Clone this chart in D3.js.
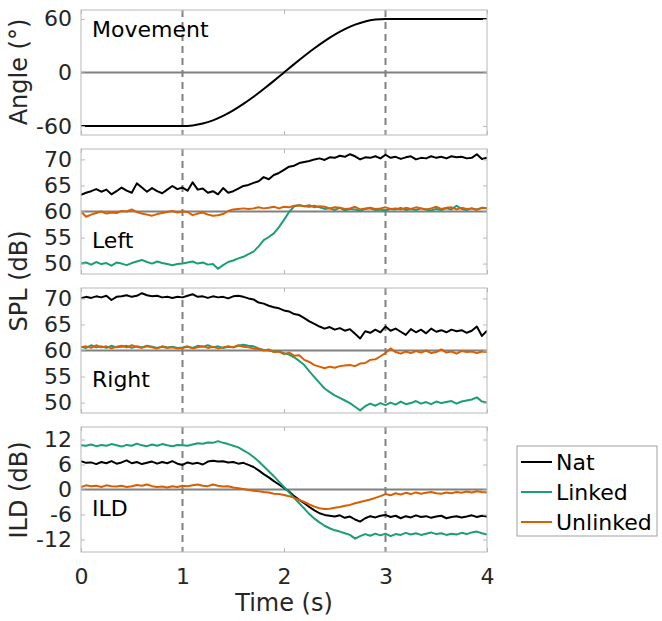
<!DOCTYPE html>
<html>
<head>
<meta charset="utf-8">
<script src="https://cdn.jsdelivr.net/npm/d3@7"></script>
<style>
  body { margin: 0; background: #fff; }
  svg { display: block; font-family: "DejaVu Sans", sans-serif; }
</style>
</head>
<body>
<div id="viz"></div>
<script>
// time axis
var timeTicks = [0, 1, 2, 3, 4],
    markerTimes = [1, 3],
    sampleStep = 0.05,
    movementStep = 0.1;

// head movement (deg), one value per 0.1 s
var movement = [
  -60, -60, -60, -60, -60, -60, -60, -60, -60, -60,
  -60, -59.3, -57.2, -53.6, -48.6, -42.4, -35.2, -27.2, -18.5, -9.4,
  0, 9.4, 18.5, 27.2, 35.2, 42.4, 48.6, 53.6, 57.2, 59.3,
  60, 60, 60, 60, 60, 60, 60, 60, 60, 60, 60];

// SPL left ear (dB), one value per 0.05 s
var leftNat = [
  63.2, 63.6, 63.9, 64.3, 63.8, 64.2, 63.3, 63.9, 64.6, 64.0,
  63.6, 65.4, 64.6, 63.8, 64.5, 63.9, 63.5, 64.2, 64.9, 64.3,
  64.6, 64.0, 65.6, 64.2, 64.4, 63.6, 63.9, 63.3, 64.5, 63.6,
  63.9, 64.4, 64.9, 65.1, 65.5, 65.8, 66.6, 66.2, 67.0, 67.4,
  68.0, 68.6, 68.8, 69.3, 69.5, 69.7, 70.0, 70.2, 69.9, 70.4,
  70.3, 70.7, 70.5, 71.0, 70.6, 70.0, 70.4, 70.3, 70.6, 70.2,
  70.9, 70.3, 70.5, 70.1, 70.4, 70.6, 70.0, 70.3, 70.2, 70.6,
  70.3, 70.5, 70.2, 70.6, 70.4, 70.5, 70.2, 70.3, 71.0, 70.1, 70.3];
var leftLinked = [
  50.0, 50.2, 49.8, 50.3, 49.9, 50.1, 49.6, 50.2, 50.0, 49.7,
  50.1, 50.4, 50.7, 50.3, 50.0, 50.4, 50.1, 49.9, 49.7, 49.9,
  50.0, 50.2, 50.4, 50.0, 50.2, 49.8, 49.9, 49.0, 49.7, 50.3,
  50.6, 51.0, 51.3, 51.8, 52.3, 53.3, 54.5, 55.1, 55.8, 57.0,
  58.4, 59.9, 61.0, 61.2, 61.0, 60.9, 61.1, 60.8, 60.5, 60.6,
  60.3, 60.7, 60.2, 60.5, 60.4, 60.1, 60.5, 60.6, 60.3, 60.4,
  60.2, 60.5, 60.4, 60.7, 60.3, 60.5, 60.3, 60.6, 60.4, 60.2,
  60.5, 60.3, 60.6, 60.4, 61.1, 60.5, 60.3, 60.6, 60.4, 60.7, 60.6];
var leftUnlinked = [
  60.0, 59.0, 59.4, 59.7, 60.0, 59.6, 59.8, 59.7, 60.1, 60.0,
  60.4, 59.9, 59.6, 59.4, 59.2, 59.5, 59.7, 59.9, 60.1, 59.8,
  60.0, 59.9, 59.3, 59.6, 59.8, 59.4, 59.2, 59.3, 59.5, 60.1,
  60.4, 60.5, 60.6, 60.5, 60.6, 60.8, 60.6, 60.7, 60.9, 60.6,
  60.9, 60.8, 61.1, 61.2, 61.0, 61.2, 60.8, 61.0, 60.9, 60.6,
  60.8, 60.7, 60.5, 60.6, 60.9, 60.4, 60.6, 60.7, 60.5, 60.6,
  60.8, 60.5, 60.6, 60.4, 60.7, 60.5, 60.8, 60.6, 60.4, 60.6,
  60.9, 60.5, 60.7, 60.8, 60.4, 60.7, 60.5, 60.6, 60.3, 60.7, 60.6];

// SPL right ear (dB)
var rightNat = [
  70.0, 70.3, 70.1, 70.4, 70.2, 70.5, 69.7, 70.3, 70.4, 70.6,
  70.3, 70.5, 71.0, 70.6, 70.4, 70.5, 70.2, 70.3, 70.1, 70.3,
  70.2, 70.5, 70.8, 70.3, 70.4, 70.1, 70.4, 70.2, 70.3, 70.0,
  70.4, 70.5, 70.3, 70.0, 69.8, 69.2, 69.0, 68.6, 68.3, 68.1,
  67.7, 67.5, 67.0, 66.8, 66.2, 65.6, 65.1, 64.6, 64.2, 64.5,
  64.0, 64.3, 63.8, 64.1, 63.2, 62.3, 63.7, 63.4, 64.0, 63.5,
  64.6, 63.8, 64.2, 63.6, 63.0, 64.1, 63.5, 64.0, 63.3, 64.2,
  63.6, 63.9, 63.5, 64.0, 63.7, 63.9, 63.4, 63.8, 64.6, 62.8, 63.8];
var rightLinked = [
  60.7, 60.5, 61.0, 60.6, 60.8, 60.5, 60.9, 60.6, 60.7, 60.9,
  60.5, 60.8, 60.6, 60.9, 60.7, 60.5, 60.8, 60.6, 60.7, 60.5,
  60.6, 60.8, 60.5, 60.9, 60.7, 61.0, 60.6, 60.8, 60.5, 60.7,
  60.6, 60.9, 61.1, 60.9, 60.8, 60.4, 60.1, 60.0, 59.8, 59.8,
  59.5, 59.2, 58.7, 58.0, 57.2, 56.0, 54.9, 53.8, 52.7, 52.0,
  51.4, 50.9, 50.4, 49.9, 49.2, 48.5, 49.3, 49.8, 49.4, 49.9,
  49.5, 50.0, 49.6, 50.2, 49.7, 49.9, 50.3, 49.8, 50.1, 49.7,
  50.2, 49.9, 50.1, 50.3, 49.8, 50.2, 50.4, 50.6, 51.0, 50.2, 50.0];
var rightUnlinked = [
  60.6, 60.8, 60.5, 61.0, 60.6, 60.8, 60.4, 60.7, 60.9, 60.6,
  61.0, 60.7, 60.5, 60.8, 60.6, 60.4, 60.7, 60.5, 60.6, 60.4,
  60.5, 60.7, 60.4, 60.6, 60.8, 60.5, 60.7, 60.4, 60.6, 60.8,
  60.6, 61.0, 60.7, 60.6, 60.4, 60.3, 60.0, 60.2, 59.7, 59.8,
  59.3, 59.6, 59.0, 59.1, 58.2, 57.8, 57.2, 56.9, 56.6, 56.9,
  56.7, 57.0, 57.1, 57.2, 57.0, 57.5, 57.6, 58.2, 58.3, 58.9,
  59.5, 60.4, 59.7, 59.4, 59.8, 59.5, 59.9, 59.6, 60.0, 59.5,
  59.7, 60.2, 59.6, 59.8, 59.4, 59.9, 59.7, 59.8, 59.5, 59.8, 59.7];

// interaural level difference (dB)
var ildNat = [
  6.8, 6.4, 6.5, 6.1, 6.6, 6.3, 6.8, 6.2, 6.5, 7.0,
  6.3, 6.6, 6.1, 6.4, 6.7, 6.2, 6.6, 6.3, 6.8, 6.2,
  5.9, 6.5, 6.2, 6.4, 6.0, 6.7, 6.9, 6.7, 6.8, 6.5,
  6.6, 6.2, 6.4, 5.9, 5.4, 4.6, 3.7, 2.9, 2.0, 1.2,
  0.4, -0.5, -1.6, -2.5, -3.3, -4.2, -5.0, -5.7, -6.1, -6.3,
  -6.5, -6.2, -6.8, -6.5, -7.2, -7.7, -6.9, -6.4, -6.7, -6.3,
  -6.1, -6.6, -6.3, -6.9, -6.4, -6.7, -6.2, -6.6, -6.4, -6.8,
  -6.5, -6.3, -6.9, -6.6, -6.4, -6.7, -6.5, -6.2, -6.6, -6.3, -6.5];
var ildLinked = [
  10.6, 10.5, 10.8, 10.4, 10.7, 10.5, 10.9, 10.6, 10.3, 10.7,
  10.5, 11.0, 10.6, 10.4, 10.8, 10.5, 10.9, 10.6, 10.4, 10.7,
  10.6, 10.5, 10.8, 11.1, 11.0, 11.3, 11.2, 11.6, 11.2, 10.9,
  10.5, 10.1, 9.4, 8.7, 7.8, 6.8, 5.6, 4.4, 3.2, 1.9,
  0.6, -0.7, -2.0, -3.3, -4.6, -5.9, -7.0, -7.9, -8.7, -9.3,
  -9.8, -10.1, -10.5, -10.9, -11.8, -11.2, -10.7, -11.1, -10.6, -11.0,
  -10.6, -11.2, -10.7, -10.9, -10.4, -10.8, -10.5, -10.9, -10.6, -10.3,
  -10.7, -10.5, -10.9, -10.6, -10.8, -10.4, -10.7, -10.3, -10.1, -10.5, -10.8];
var ildUnlinked = [
  0.6, 1.0, 0.8, 0.9, 0.6, 1.0, 0.8, 0.7, 0.9, 0.6,
  0.8, 1.1, 0.9, 1.2, 0.8, 0.6, 0.7, 0.5, 0.8, 0.6,
  0.9, 0.8, 1.0, 1.2, 0.9, 0.8, 1.2, 0.9, 0.7, 0.8,
  0.5, 0.3, 0.1, -0.1, -0.3, -0.4, -0.6, -0.7, -1.0, -1.1,
  -1.3, -1.6, -2.0, -2.5, -3.0, -3.6, -4.1, -4.5, -4.7, -4.6,
  -4.4, -4.2, -3.9, -3.7, -3.3, -3.0, -2.7, -2.4, -2.0, -1.6,
  -1.1, -1.4, -0.9, -1.2, -0.8, -1.1, -0.7, -1.0, -0.8, -0.6,
  -0.9, -1.0, -0.7, -0.9, -0.6, -0.8, -0.5, -0.7, -0.4, -0.6, -0.7];

var seriesNames = ['Nat', 'Linked', 'Unlinked'],
    seriesColors = ['#000000', '#1b9e77', '#d95f02'];

var svgW = 662, svgH = 621,
    plotLeft = 81, plotRight = 487,
    panelH = 125,
    boxColor = '#b8b8b8',
    textColor = '#262626',
    refColor = '#808080',
    fontSize = '22px',
    titleSize = '24px';

var panels = [
  { top: 10,  domain: [-70, 70], ticks: [-60, 0, 60], ref: 0, label: 'Movement', labelY: 37,
    step: movementStep, series: [movement], colors: ['#000000'], curve: d3.curveMonotoneX },
  { top: 149, domain: [48, 72], ticks: [50, 55, 60, 65, 70], ref: 60, label: 'Left', labelY: 248,
    step: sampleStep, series: [leftNat, leftLinked, leftUnlinked], colors: seriesColors, curve: d3.curveLinear },
  { top: 288, domain: [48, 72], ticks: [50, 55, 60, 65, 70], ref: 60, label: 'Right', labelY: 387,
    step: sampleStep, series: [rightNat, rightLinked, rightUnlinked], colors: seriesColors, curve: d3.curveLinear },
  { top: 427, domain: [-15, 15], ticks: [-12, -6, 0, 6, 12], ref: 0, label: 'ILD', labelY: 516,
    step: sampleStep, series: [ildNat, ildLinked, ildUnlinked], colors: seriesColors, curve: d3.curveLinear }
];

// plain hyphen minus like the original
var plainFormat = function(d) { return String(d); };

var xScale = d3.scaleLinear()
  .domain([0, 4])
  .range([plotLeft, plotRight]);

var svg = d3.select('#viz').append('svg')
  .attr('width', svgW)
  .attr('height', svgH);

panels.forEach(function(p, pi) {
  var yScale = d3.scaleLinear()
    .domain(p.domain)
    .range([p.top + panelH, p.top]);

  var g = svg.append('g');

  g.append('clipPath').attr('id', 'clip' + pi)
    .append('rect')
      .attr('x', plotLeft).attr('y', p.top)
      .attr('width', plotRight - plotLeft).attr('height', panelH);

  // reference lines
  g.append('line')
    .attr('x1', plotLeft).attr('x2', plotRight)
    .attr('y1', yScale(p.ref)).attr('y2', yScale(p.ref))
    .attr('stroke', refColor).attr('stroke-width', 2);

  g.selectAll('.marker').data(markerTimes).enter().append('line')
    .attr('x1', function(d) { return xScale(d); })
    .attr('x2', function(d) { return xScale(d); })
    .attr('y1', p.top).attr('y2', p.top + panelH)
    .attr('stroke', refColor).attr('stroke-width', 2)
    .attr('stroke-dasharray', '7,5');

  // data lines
  var line = d3.line()
    .x(function(d, i) { return xScale(i * p.step); })
    .y(function(d) { return yScale(d); })
    .curve(p.curve);

  g.append('g').attr('clip-path', 'url(#clip' + pi + ')')
    .selectAll('path').data(p.series).enter().append('path')
      .attr('d', line)
      .attr('fill', 'none')
      .attr('stroke', function(d, i) { return p.colors[i]; })
      .attr('stroke-width', 2)
      .attr('stroke-linejoin', 'round');

  // axes with inward ticks
  var left = g.append('g')
    .attr('transform', 'translate(' + plotLeft + ',0)')
    .call(d3.axisLeft(yScale).tickValues(p.ticks).tickSize(-4).tickPadding(9).tickFormat(plainFormat));
  var right = g.append('g')
    .attr('transform', 'translate(' + plotRight + ',0)')
    .call(d3.axisRight(yScale).tickValues(p.ticks).tickSize(-4).tickFormat(''));
  var top = g.append('g')
    .attr('transform', 'translate(0,' + p.top + ')')
    .call(d3.axisTop(xScale).tickValues(timeTicks).tickSize(-4).tickFormat(''));
  var bottomAxis = d3.axisBottom(xScale).tickValues(timeTicks).tickSize(-4).tickPadding(16)
    .tickFormat(pi < panels.length - 1 ? '' : plainFormat);
  var bottom = g.append('g')
    .attr('transform', 'translate(0,' + (p.top + panelH) + ')')
    .call(bottomAxis);

  [left, right, top, bottom].forEach(function(a) {
    a.select('.domain').remove();
    a.selectAll('line').attr('stroke', boxColor);
    a.selectAll('text')
      .attr('fill', textColor)
      .style('font-size', fontSize)
      .style('font-family', '"DejaVu Sans", sans-serif');
  });

  // box
  g.append('rect')
    .attr('x', plotLeft).attr('y', p.top)
    .attr('width', plotRight - plotLeft).attr('height', panelH)
    .attr('fill', 'none').attr('stroke', boxColor).attr('stroke-width', 1);

  g.append('text')
    .attr('x', 92).attr('y', p.labelY)
    .attr('fill', '#000')
    .style('font-size', fontSize)
    .text(p.label);
});

// axis titles
var yTitles = [
  { text: 'Angle (°)', y: 72 },
  { text: 'SPL (dB)', y: 281 },
  { text: 'ILD (dB)', y: 490 }
];
svg.selectAll('.ytitle').data(yTitles).enter().append('text')
  .attr('transform', function(d) { return 'translate(27,' + d.y + ') rotate(-90)'; })
  .attr('text-anchor', 'middle')
  .attr('fill', textColor)
  .style('font-size', titleSize)
  .text(function(d) { return d.text; });

svg.append('text')
  .attr('x', (plotLeft + plotRight) / 2).attr('y', 611)
  .attr('text-anchor', 'middle')
  .attr('fill', textColor)
  .style('font-size', titleSize)
  .text('Time (s)');

// legend
var legend = svg.append('g');
legend.append('rect')
  .attr('x', 517).attr('y', 446)
  .attr('width', 140).attr('height', 90)
  .attr('fill', '#fff').attr('stroke', '#a0a0a0').attr('stroke-width', 1);

var items = legend.selectAll('.item').data(seriesNames).enter().append('g')
  .attr('transform', function(d, i) { return 'translate(0,' + (462 + i * 30) + ')'; });
items.append('line')
  .attr('x1', 521).attr('x2', 552)
  .attr('stroke', function(d, i) { return seriesColors[i]; })
  .attr('stroke-width', 2);
items.append('text')
  .attr('x', 556).attr('dy', '0.35em')
  .attr('fill', '#000')
  .style('font-size', fontSize)
  .text(function(d) { return d; });
</script>
</body>
</html>
